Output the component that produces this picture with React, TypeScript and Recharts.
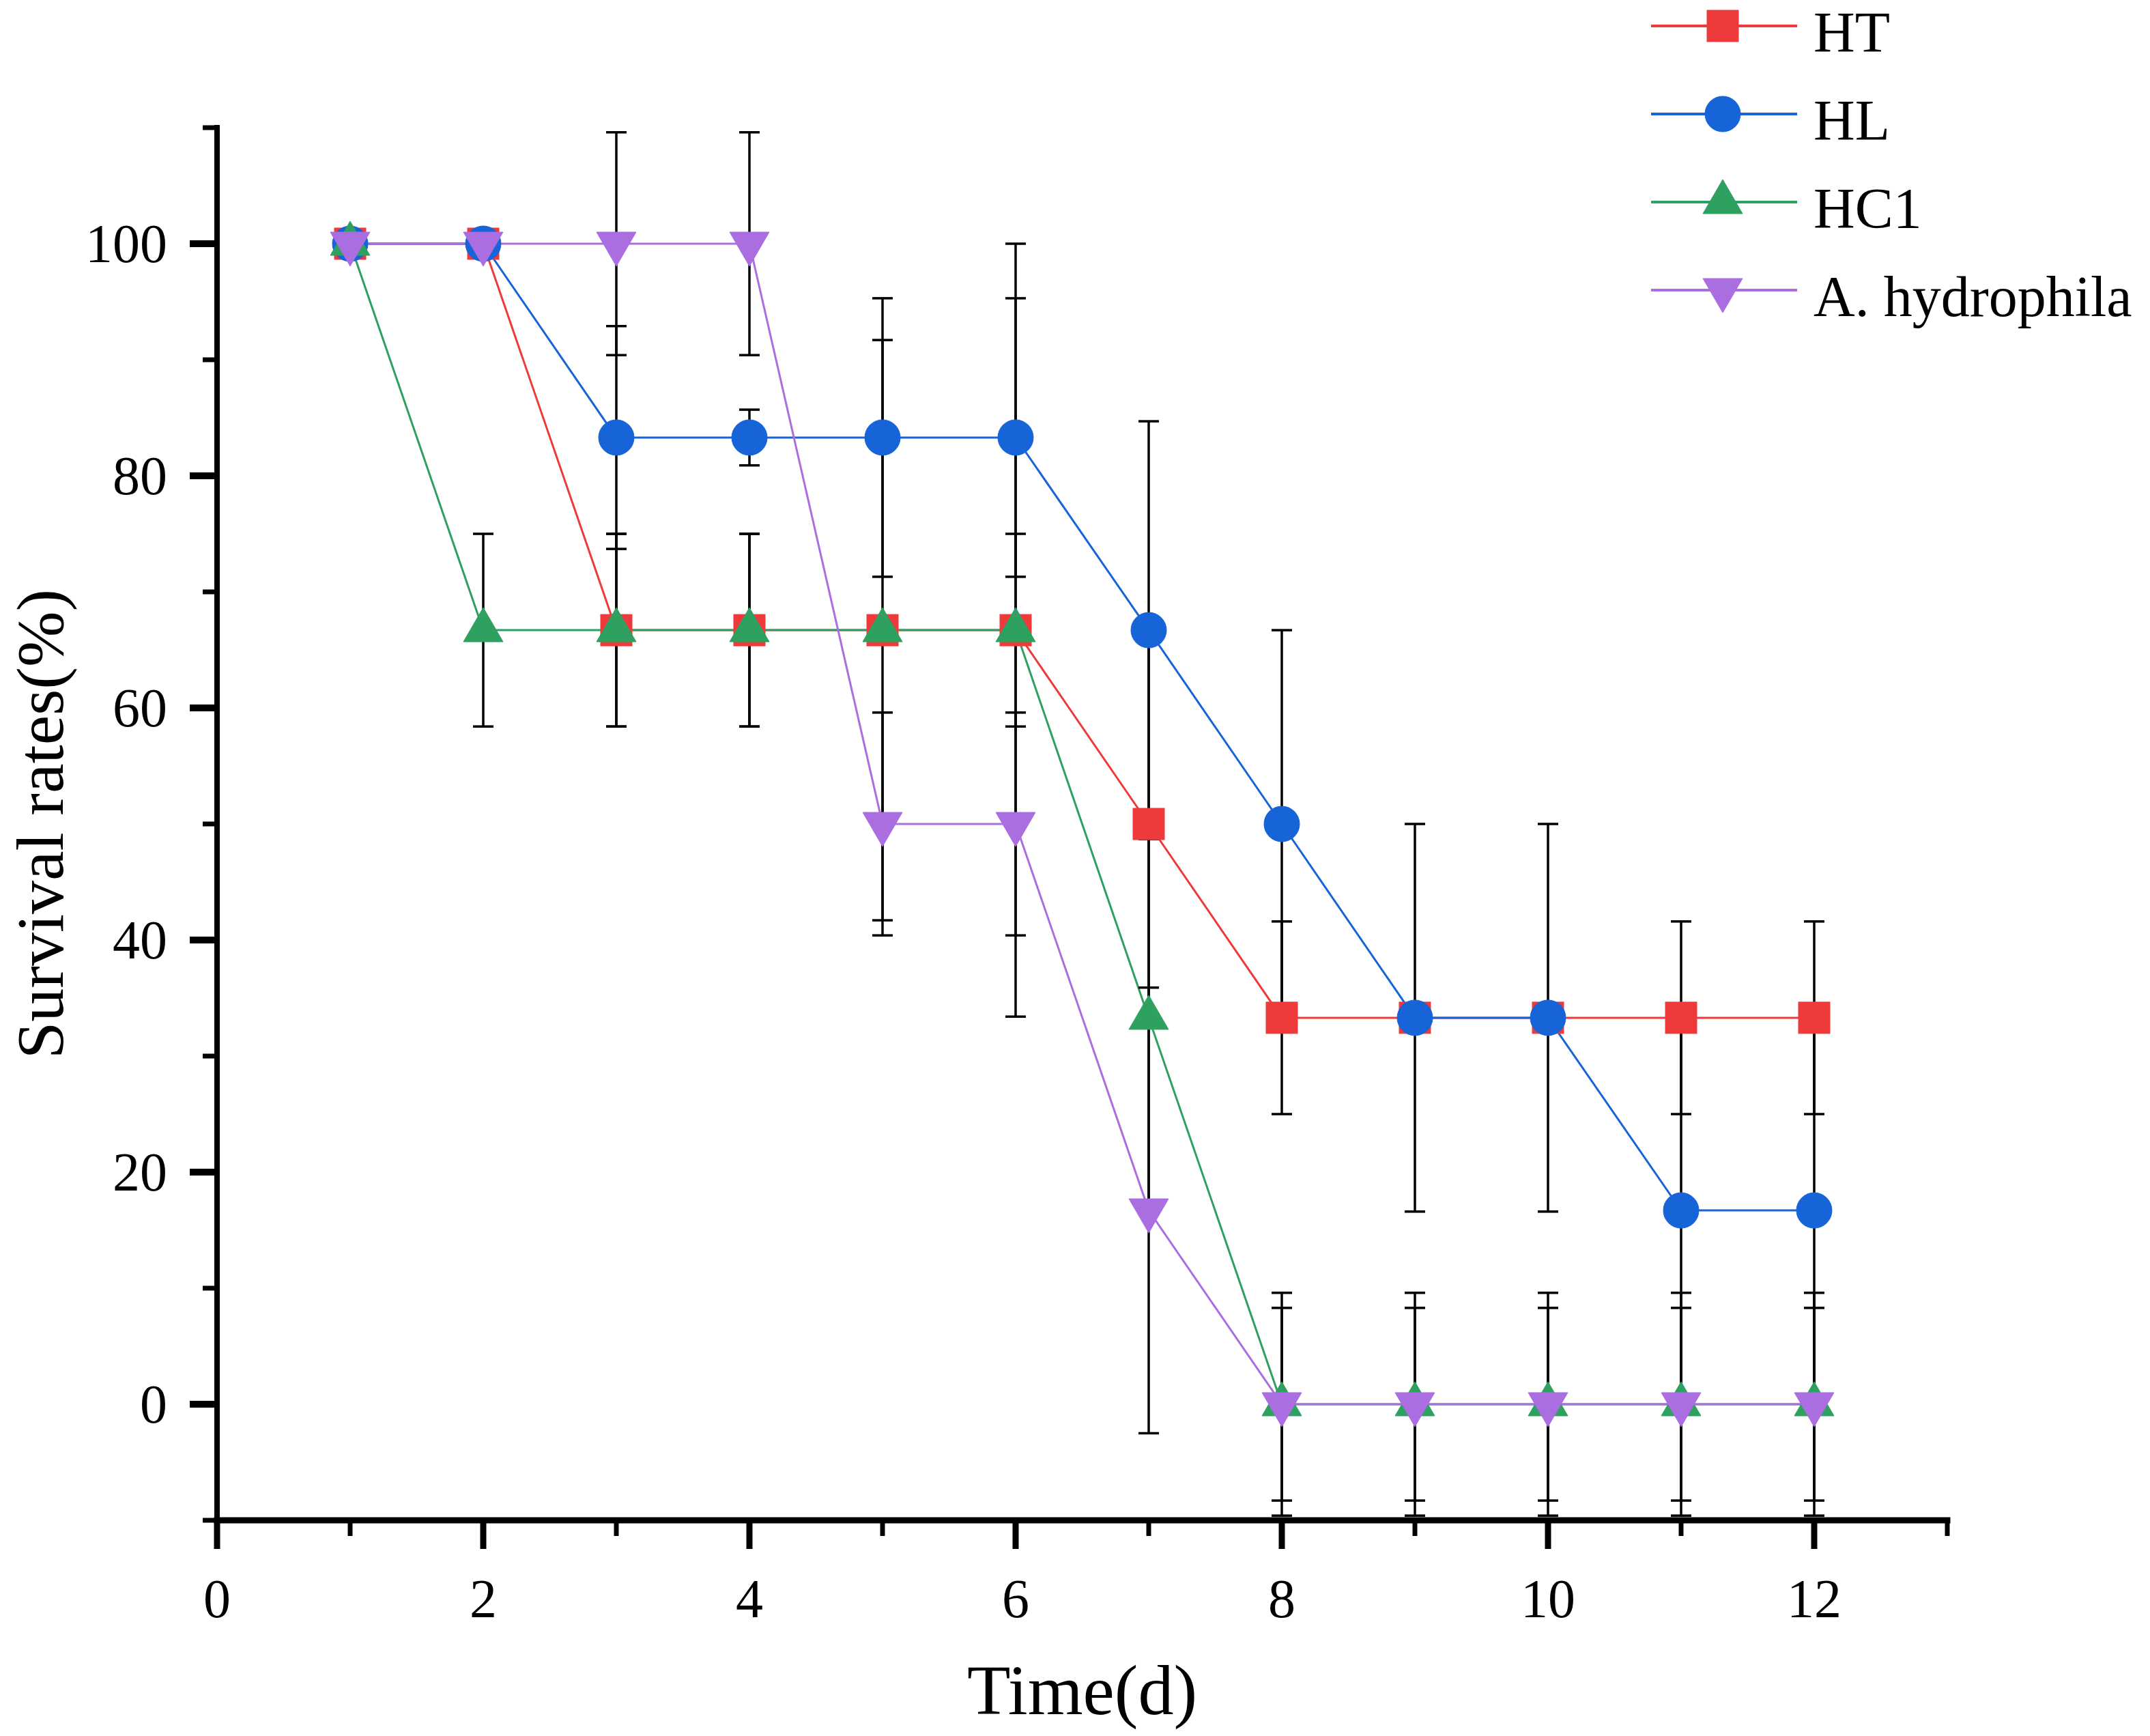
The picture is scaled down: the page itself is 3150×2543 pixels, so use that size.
// Survival rates of the four groups over 12 days, mean ± SD error bars.

import React from "react";
import { LineChart, Line, XAxis, YAxis, ErrorBar, Legend, Label } from "recharts";

const DAYS = [1, 2, 3, 4, 5, 6, 7, 8, 9, 10, 11, 12];

const HT = [100, 100, 66.7, 66.7, 66.7, 66.7, 50, 33.3, 33.3, 33.3, 33.3, 33.3];
const HL = [100, 100, 83.3, 83.3, 83.3, 83.3, 66.7, 50, 33.3, 33.3, 16.7, 16.7];
const HC1 = [100, 66.7, 66.7, 66.7, 66.7, 66.7, 33.3, 0, 0, 0, 0, 0];
const AH = [100, 100, 100, 100, 50, 50, 16.7, 0, 0, 0, 0, 0];

const HT_ERR = [0, 0, 8.3, 8.3, 25, 8.3, 16.7, 8.3, 0, 0, 8.3, 8.3];
const HL_ERR = [0, 0, 9.6, 2.4, 12, 12, 18, 16.7, 16.7, 16.7, 16.7, 16.7];
const HC1_ERR = [0, 8.3, 8.3, 8.3, 0, 33.3, 16.7, 9.6, 9.6, 9.6, 9.6, 9.6];
const AH_ERR = [0, 0, 9.6, 9.6, 9.6, 9.6, 19.2, 8.3, 8.3, 8.3, 8.3, 8.3];

const X_TICKS = [0, 1, 2, 3, 4, 5, 6, 7, 8, 9, 10, 11, 12, 13];
const Y_TICKS = [-10, 0, 10, 20, 30, 40, 50, 60, 70, 80, 90, 100, 110];

const SERIES = [
  { key: "HT", name: "HT", color: "#ee3a3a", shape: "square" },
  { key: "HL", name: "HL", color: "#1664d8", shape: "circle" },
  { key: "HC1", name: "HC1", color: "#2ea060", shape: "up" },
  { key: "AH", name: "A. hydrophila", color: "#aa6ee1", shape: "down" },
];

const data = DAYS.map((day, i) => ({
  day,
  HT: HT[i],
  HL: HL[i],
  HC1: HC1[i],
  AH: AH[i],
  HT_err: HT_ERR[i],
  HL_err: HL_ERR[i],
  HC1_err: HC1_ERR[i],
  AH_err: AH_ERR[i],
}));

const FONT = "'Liberation Serif', 'Times New Roman', serif";

function MarkerShape({ cx, cy, shape, color }: { cx: number; cy: number; shape: string; color: string }) {
  const common = { fill: color, stroke: color, strokeWidth: 1 };
  if (shape === "square") return <rect x={cx - 23} y={cy - 23} width={46} height={46} {...common} />;
  if (shape === "circle") return <circle cx={cx} cy={cy} r={26} {...common} />;
  if (shape === "up")
    return <polygon points={`${cx},${cy - 33} ${cx + 29},${cy + 17} ${cx - 29},${cy + 17}`} {...common} />;
  return <polygon points={`${cx - 29},${cy - 17} ${cx + 29},${cy - 17} ${cx},${cy + 33}`} {...common} />;
}

const dotFor = (shape: string, color: string) => (props: any) => {
  const { cx, cy, index } = props;
  if (cx == null || cy == null) return <g key={`${shape}-${index}`} />;
  return (
    <g key={`${shape}-${index}`}>
      <MarkerShape cx={cx} cy={cy} shape={shape} color={color} />
    </g>
  );
};

function XTick(props: any) {
  const { x, y, payload } = props;
  const v = payload.value;
  const major = v % 2 === 0;
  return (
    <g>
      <line x1={x} x2={x} y1={y} y2={y + (major ? 40 : 21)} stroke="#000" strokeWidth={major ? 9 : 7} />
      {major && (
        <text x={x} y={y + 140} textAnchor="middle" fontSize={80} fontFamily={FONT} fill="#000">
          {v}
        </text>
      )}
    </g>
  );
}

function YTick(props: any) {
  const { x, y, payload } = props;
  const v = payload.value;
  const major = v % 20 === 0 && v >= 0 && v <= 100;
  return (
    <g>
      <line x1={x - (major ? 38 : 19)} x2={x} y1={y} y2={y} stroke="#000" strokeWidth={major ? 10 : 7} />
      {major && (
        <text x={x - 71} y={y + 27} textAnchor="end" fontSize={80} fontFamily={FONT} fill="#000">
          {v}
        </text>
      )}
    </g>
  );
}

function LegendBox() {
  return (
    <svg width={750} height={490}>
      {SERIES.map((s, i) => {
        const y = 38 + i * 129;
        return (
          <g key={s.key}>
            <line x1={19} x2={233} y1={y} y2={y} stroke={s.color} strokeWidth={4} />
            <MarkerShape cx={124} cy={y} shape={s.shape} color={s.color} />
            <text x={257} y={y + 38} fontSize={84} fontFamily={FONT} fill="#000">
              {s.name}
            </text>
          </g>
        );
      })}
    </svg>
  );
}

export default function App() {
  return (
    <div style={{ position: "absolute", left: 0, top: 0, width: 3150, height: 2543, background: "#fff" }}>
      <LineChart width={3150} height={2543} data={data} margin={{ top: 187, right: 297, bottom: 0, left: 0 }}>
        <XAxis
          dataKey="day"
          type="number"
          domain={[0, 13]}
          ticks={X_TICKS}
          interval={0}
          height={316}
          tickSize={0}
          tickLine={false}
          tick={<XTick />}
          axisLine={{ stroke: "#000", strokeWidth: 9, strokeLinecap: "square" }}
        >
          <Label
            content={(p: any) => {
              const vb = p.viewBox;
              return (
                <text x={vb.x + vb.width / 2} y={vb.y + 284} textAnchor="middle" fontSize={104} fontFamily={FONT} fill="#000">
                  Time(d)
                </text>
              );
            }}
          />
        </XAxis>
        <YAxis
          type="number"
          domain={[-10, 110]}
          ticks={Y_TICKS}
          interval={0}
          width={318}
          tickSize={0}
          tickLine={false}
          tick={<YTick />}
          axisLine={{ stroke: "#000", strokeWidth: 8, strokeLinecap: "square" }}
        >
          <Label
            content={(p: any) => {
              const vb = p.viewBox;
              const cx = vb.x + 92;
              const cy = vb.y + vb.height / 2;
              return (
                <text x={cx} y={cy} transform={`rotate(-90 ${cx} ${cy})`} textAnchor="middle" fontSize={98} fontFamily={FONT} fill="#000">
                  Survival rates(%)
                </text>
              );
            }}
          />
        </YAxis>
        <Legend
          layout="vertical"
          align="center"
          verticalAlign="middle"
          wrapperStyle={{ position: "absolute", left: 2400, top: 0, width: 750, height: 490 }}
          content={() => <LegendBox />}
        />
        {SERIES.map((s) => (
          <Line
            key={s.key}
            dataKey={s.key}
            name={s.name}
            stroke={s.color}
            strokeWidth={3}
            dot={dotFor(s.shape, s.color)}
            activeDot={false}
            isAnimationActive={false}
          />
        ))}
        {SERIES.map((s) => (
          <Line
            key={`${s.key}-err`}
            dataKey={s.key}
            stroke="none"
            dot={false}
            activeDot={false}
            legendType="none"
            isAnimationActive={false}
          >
            <ErrorBar dataKey={`${s.key}_err`} direction="y" width={15} stroke="#000" strokeWidth={3.5} isAnimationActive={false} />
          </Line>
        ))}
      </LineChart>
    </div>
  );
}
